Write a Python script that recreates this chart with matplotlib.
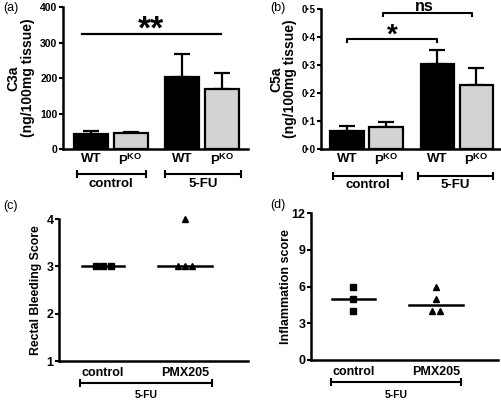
import numpy as np
import matplotlib
matplotlib.use("Agg")
import matplotlib.pyplot as plt

plt.rcParams["font.family"] = ["Liberation Sans", "DejaVu Sans"]
plt.rcParams["mathtext.fontset"] = "custom"
plt.rcParams["mathtext.rm"] = "Liberation Sans:bold"
plt.rcParams["mathtext.bf"] = "Liberation Sans:bold"

# (a)/(b) complement fragments
bar_labels = ["WT", r"P$^{\mathbf{KO}}$", "WT", r"P$^{\mathbf{KO}}$"]
bar_groups = ["control", "5-FU"]
c3a_mean = [43, 46, 203, 168]
c3a_err = [8, 2, 66, 45]
c5a_mean = [0.065, 0.080, 0.302, 0.228]
c5a_err = [0.018, 0.015, 0.050, 0.063]

# (c)/(d) scores
score_groups = ["control", "PMX205"]
bleed_control = [3, 3, 3]
bleed_pmx = [3, 3, 3, 4]
inflam_control = [6, 5, 4]
inflam_pmx = [6, 5, 4, 4]

W, H = 502, 401
fig = plt.figure(figsize=(W / 100, H / 100), dpi=100)


def add_ax(x0, y0, x1, y1):
    # pixel box -> figure fraction
    return fig.add_axes([x0 / W, 1 - y1 / H, (x1 - x0) / W, (y1 - y0) / H])


def style(ax, ysize):
    for s in ["top", "right"]:
        ax.spines[s].set_visible(False)
    for s in ["left", "bottom"]:
        ax.spines[s].set_linewidth(1.8)
    ax.tick_params(axis="y", length=3, width=1.5, labelsize=ysize, pad=1)
    ax.tick_params(axis="x", length=0)
    for t in ax.get_yticklabels():
        t.set_fontweight("bold")


def bracket(ax, x0, x1, y, ytext, label, fs):
    tr = ax.get_xaxis_transform()
    ax.plot([x0, x1], [y, y], color="black", lw=1.5, transform=tr, clip_on=False)
    ax.plot([x0, x1], [y, y], ls="none", marker="|", ms=6, mew=1.5,
            color="black", transform=tr, clip_on=False)
    ax.text((x0 + x1) / 2, ytext, label, transform=tr, ha="center",
            va="center", fontsize=fs, fontweight="bold")


def spread(vals, step):
    vals = np.asarray(vals, float)
    xs = np.zeros_like(vals)
    for v in np.unique(vals):
        idx = np.where(vals == v)[0]
        xs[idx] = (np.arange(len(idx)) - (len(idx) - 1) / 2) * step
    return xs


pos = np.array([0, 1, 2.3, 3.3])
colors = ["black", "#d3d3d3", "black", "#d3d3d3"]


def bar_panel(ax, means, errs, xlim):
    ax.bar(pos, means, width=0.85, color=colors, edgecolor="black", lw=1.6, zorder=2)
    ax.errorbar(pos, means, yerr=[np.zeros(len(errs)), errs], fmt="none",
                ecolor="black", elinewidth=1.6, capsize=6, capthick=1.6, zorder=1)
    ax.set_xlim(*xlim)
    ax.set_xticks(pos)
    ax.set_xticklabels(bar_labels, fontsize=9.5, fontweight="bold")
    ax.tick_params(axis="x", pad=3)


# (a)
ax = add_ax(63, 7, 248, 149)
bar_panel(ax, c3a_mean, c3a_err, (-0.7, 3.95))
ax.set_ylim(0, 400)
ax.set_yticks([0, 100, 200, 300, 400])
style(ax, 7.5)
ax.set_ylabel("C3a\n(ng/100mg tissue)", fontsize=10, fontweight="bold", linespacing=1.05)
ax.yaxis.set_label_coords(-0.15, 0.5)
ax.plot([-0.22, 3.27], [324, 324], color="black", lw=1.6, clip_on=False)
ax.text(1.52, 312, "**", ha="center", va="baseline", fontsize=24, fontweight="bold")
bracket(ax, pos[0] - 0.35, pos[1] + 0.38, -0.176, -0.246, bar_groups[0], 9.5)
bracket(ax, pos[2] - 0.44, pos[3] + 0.47, -0.176, -0.246, bar_groups[1], 9.5)

# (b)
ax = add_ax(321, 9, 502, 149)
bar_panel(ax, c5a_mean, c5a_err, (-0.66, 3.95))
ax.set_ylim(0, 0.5)
yt = [0, 0.1, 0.2, 0.3, 0.4, 0.5]
ax.set_yticks(yt)
ax.set_yticklabels([f"{v:.1f}".replace(".", "\u00b7") for v in yt])
style(ax, 7)
ax.set_ylabel("C5a\n(ng/100mg tissue)", fontsize=10, fontweight="bold", linespacing=1.05)
ax.yaxis.set_label_coords(-0.13, 0.5)
ax.plot([pos[0], pos[0], pos[2], pos[2]], [0.382, 0.393, 0.393, 0.382],
        color="black", lw=1.5, clip_on=False)
ax.text((pos[0] + pos[2]) / 2, 0.38, "*", ha="center", va="baseline",
        fontsize=20, fontweight="bold")
ax.plot([pos[1] - 0.08, pos[1] - 0.08, pos[3] - 0.12, pos[3] - 0.12],
        [0.475, 0.486, 0.486, 0.475], color="black", lw=1.5, clip_on=False)
ax.text(1.98, 0.492, "ns", ha="center", va="baseline",
        fontsize=11.5, fontweight="bold", clip_on=False)
bracket(ax, pos[0] - 0.35, pos[1] + 0.40, -0.193, -0.257, bar_groups[0], 9.5)
bracket(ax, pos[2] - 0.49, pos[3] + 0.42, -0.193, -0.257, bar_groups[1], 9.5)


def score_panel(ax, ctrl, pmx, xlim):
    for i, (vals, mk) in enumerate([(ctrl, "s"), (pmx, "^")]):
        xs = i + spread(vals, 0.09)
        ax.plot(xs, vals, ls="none", marker=mk, ms=5, color="black", clip_on=False)
        med = np.median(vals)
        hw = 0.26 if i == 0 else 0.33
        ax.plot([i - hw, i + hw], [med, med], color="black", lw=1.8)
    ax.set_xlim(*xlim)
    ax.set_xticks([0, 1])
    ax.set_xticklabels(score_groups, fontsize=9, fontweight="bold")
    ax.tick_params(axis="x", pad=4)


# (c)
ax = add_ax(59, 219, 248, 361)
score_panel(ax, bleed_control, bleed_pmx, (-0.54, 1.77))
ax.set_ylim(1, 4)
ax.set_yticks([1, 2, 3, 4])
style(ax, 9)
ax.set_ylabel("Rectal Bleeding Score", fontsize=8.8, fontweight="bold")
ax.yaxis.set_label_coords(-0.09, 0.5)
bracket(ax, -0.28, 1.33, -0.155, -0.24, "5-FU", 7.5)

# (d)
ax = add_ax(311, 213, 498, 360)
score_panel(ax, inflam_control, inflam_pmx, (-0.51, 1.75))
ax.set_ylim(0, 12)
ax.set_yticks([0, 3, 6, 9, 12])
style(ax, 9)
ax.set_ylabel("Inflammation score", fontsize=9, fontweight="bold")
ax.yaxis.set_label_coords(-0.10, 0.5)
bracket(ax, -0.27, 1.30, -0.15, -0.238, "5-FU", 7.5)

# panel letters
for x, y, s in [(3, 8, "(a)"), (270, 8, "(b)"), (3, 206, "(c)"), (270, 205, "(d)")]:
    fig.text(x / W, 1 - y / H, s, ha="left", va="center", fontsize=9)

fig.savefig("out.png", dpi=100)
